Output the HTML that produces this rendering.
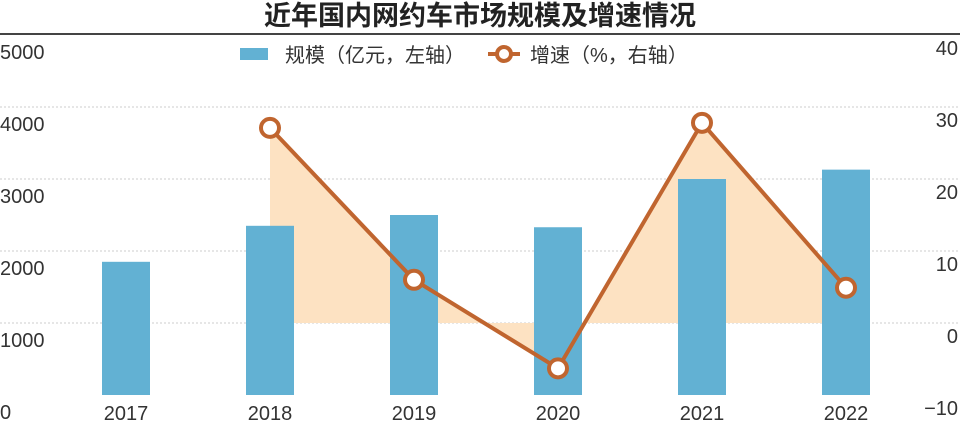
<!DOCTYPE html>
<html><head><meta charset="utf-8"><style>
body{margin:0;background:#fff;}
svg{display:block;font-family:"Liberation Sans","Noto Sans CJK SC",sans-serif;}
</style></head><body>
<svg id="c" width="960" height="425" viewBox="0 0 960 425">
<text x="480" y="25" text-anchor="middle" font-size="27" font-weight="bold" fill="#222">近年国内网约车市场规模及增速情况</text>
<line x1="0" y1="34" x2="960" y2="34" stroke="#444" stroke-width="2"/>
<g id="grid"></g>
<g id="area"></g>
<g id="bars"></g>
<g id="line"></g>
<g id="axes"></g>
<g>
<rect x="240" y="48" width="28" height="12" fill="#62b1d3"/>
<text x="285" y="62" font-size="20" fill="#333">规模（亿元，左轴）</text>
<line x1="488" y1="54" x2="520" y2="54" stroke="#c0652f" stroke-width="4"/>
<circle cx="504" cy="54" r="7" fill="#fff" stroke="#c0652f" stroke-width="4"/>
<text x="530" y="62" font-size="20" fill="#333">增速（%，右轴）</text>
</g>
</svg>
<script>
const years=["2017","2018","2019","2020","2021","2022"];
const scale=[1850,2350,2500,2330,3000,3130];
const growth=[null,27.1,6.0,-6.3,27.8,4.9];
const leftTicks=[0,1000,2000,3000,4000,5000];
const rightTicks=[-10,0,10,20,30,40];
const NS="http://www.w3.org/2000/svg";
function el(t,a,p){const e=document.createElementNS(NS,t);for(const k in a)e.setAttribute(k,a[k]);document.getElementById(p).appendChild(e);return e;}
const yL=v=>395-v*0.072;
const yR=v=>323-v*7.2;
const xC=i=>126+i*144;
leftTicks.forEach(v=>{
 if(v>0&&v<5000){const g=el('line',{x1:0,x2:960,y1:yL(v),y2:yL(v),stroke:'#ccc','stroke-width':1,'stroke-dasharray':'2,2'},'grid');
 
 }
 const t=el('text',{x:0,y:yL(v)+24,'font-size':20,fill:'#333'},'axes');t.textContent=v;
 
 
});
rightTicks.forEach(v=>{
 const t=el('text',{x:958,y:yR(v)+20,'text-anchor':'end','font-size':20,fill:'#333'},'axes');t.textContent=(v<0?'−'+(-v):v);
 
 
});
years.forEach((y,i)=>{
 const t=el('text',{x:xC(i),y:420,'text-anchor':'middle','font-size':20,fill:'#333'},'axes');t.textContent=y;
 
 
 const b=el('rect',{x:xC(i)-24,y:yL(scale[i]),width:48,height:395-yL(scale[i]),fill:'#62b1d3'},'bars');
 
 
});
const pts=[];growth.forEach((g,i)=>{if(g!==null)pts.push([xC(i),yR(g)]);});
const poly=pts.map(p=>p.join(',')).join(' ')+` ${pts[pts.length-1][0]},${yR(0)} ${pts[0][0]},${yR(0)}`;
const a=el('polygon',{points:poly,fill:'#fde2c2'},'area');


const l=el('polyline',{points:pts.map(p=>p.join(',')).join(' '),fill:'none',stroke:'#c0652f','stroke-width':4},'line');


pts.forEach(p=>{const c=el('circle',{cx:p[0],cy:p[1],r:9,fill:'#fff',stroke:'#c0652f','stroke-width':4},'line');
 
 });
</script>
</body></html>
